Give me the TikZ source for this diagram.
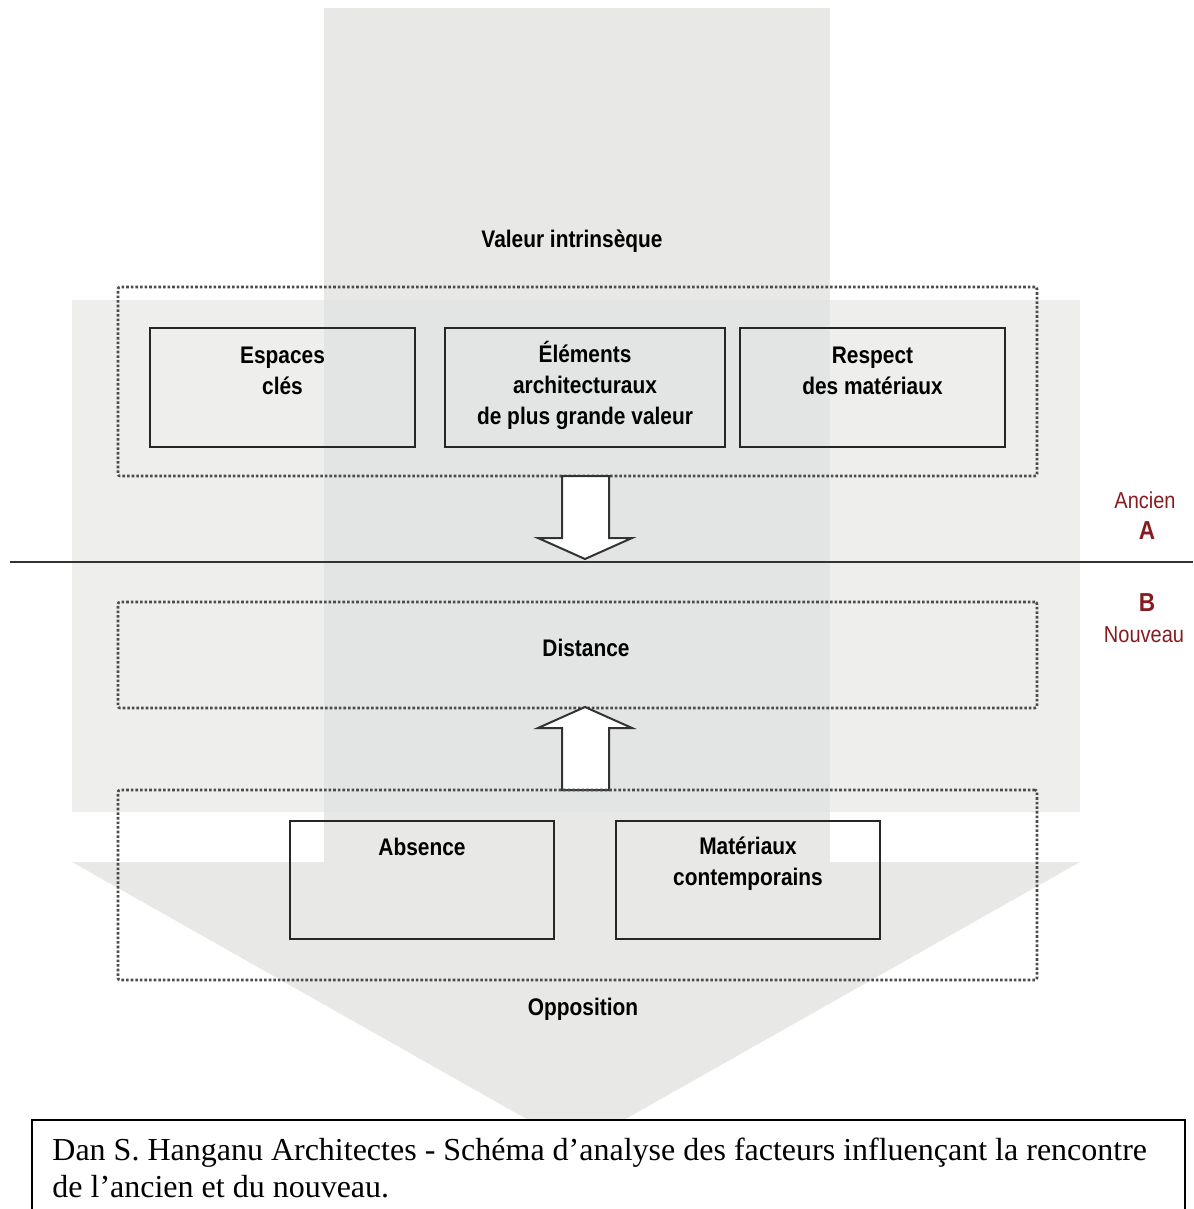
\documentclass[tikz,border=0pt]{standalone}
\usepackage{fontspec}
\setmainfont{Liberation Serif}
\newfontfamily\diafont[FakeStretch=0.87]{Liberation Sans}
\usetikzlibrary{positioning}

\definecolor{bandgray}{RGB}{232,232,230}
\definecolor{hbandgray}{RGB}{238,238,237}
\definecolor{overgray}{RGB}{227,229,229}
\definecolor{dotgray}{RGB}{75,75,75}
\definecolor{oldnew}{RGB}{135,28,32}

\tikzset{
  zone/.style={draw=dotgray, densely dotted, line width=1.3pt, rounded corners=1pt, inner sep=0pt},
  factor/.style={draw=black!85, line width=1pt, inner sep=0pt, minimum width=132.5pt, minimum height=59.5pt},
  ftext/.style={font=\diafont\bfseries\fontsize{12}{15.5}\selectfont, align=center, anchor=base, inner sep=0pt},
  sidetext/.style={font=\diafont\fontsize{11.5}{13}\selectfont, text=oldnew, inner sep=0pt},
  sideletter/.style={font=\diafont\bfseries\fontsize{13}{15}\selectfont, text=oldnew, inner sep=0pt},
  hollow/.style={draw=black!80, line width=1pt, fill=white, line join=miter}
}

\begin{document}
\begin{tikzpicture}[x=0.5pt, y=-0.5pt]
  \useasboundingbox (0,0) rectangle (1193,1209);

  % big grey arrow behind everything
  \fill [bandgray] (324,8) rectangle (830,862);
  \fill [hbandgray] (72,300) rectangle (1080,812);
  \fill [overgray] (324,300) rectangle (830,812);
  \fill [bandgray] (72,862) -- (1080,862) -- (576,1147) -- cycle;

  % old
  \node [ftext] (valeur) at (572,248) {Valeur intrinsèque};
  \node [zone, minimum width=459.5pt, minimum height=94.5pt] (oldzone) at (577.5,381.5) {};

  \node [factor] (espaces) at (282.5,387.5) {};
  \node [factor, minimum width=140pt] (elements) at (585,387.5) {};
  \node [factor] (respect) at (872.5,387.5) {};
  % base = last line
  \node [ftext] (espacestxt) at ([yshift=-33.5pt]espaces.north) {Espaces\\clés};
  \node [ftext] (elementstxt) at ([yshift=-48.5pt]elements.north) {Éléments\\architecturaux\\de plus grande valeur};
  \node [ftext] (respecttxt) at ([yshift=-33.5pt]respect.north) {Respect\\des matériaux};

  \draw [hollow] (562,476) -- (562,538) -- (538,538) -- (585,559) -- (632,538) -- (609,538) -- (609,476) -- cycle;

  % divider
  \coordinate (divl) at (10,562);
  \coordinate (divr) at (1193,562);
  \draw [line width=1pt, black!80] (divl) -- (divr);
  \node [sidetext] (ancien) at (1145,500) {Ancien};
  \node [sideletter] (lettera) at (1147,531) {A};
  \node [sideletter] (letterb) at (1147,603) {B};
  \node [sidetext] (nouveau) at (1144,635) {Nouveau};

  % new
  \node [zone, minimum width=459.5pt, minimum height=53pt] (distzone) at (577.5,655) {};
  \node [ftext] (distance) at (586,656) {Distance};

  \draw [hollow] (562,790) -- (562,728) -- (538,728) -- (585,707) -- (632,728) -- (609,728) -- (609,790) -- cycle;

  \node [zone, minimum width=459.5pt, minimum height=95pt] (oppzone) at (577.5,885) {};
  \node [factor, minimum width=132pt, minimum height=59pt] (absence) at (422,880) {};
  \node [factor, minimum width=132pt, minimum height=59pt] (materiaux) at (748,880) {};
  \node [ftext] (absencetxt) at ([yshift=-17.5pt]absence.north) {Absence};
  \node [ftext] (materiauxtxt) at ([yshift=-32.5pt]materiaux.north) {Matériaux\\contemporains};
  \node [ftext] (opposition) at (583,1015) {Opposition};

  % caption
  \draw [line width=1pt, fill=white] (32,1120) rectangle (1185,1240);
  \node [anchor=base west, align=left, inner sep=0pt, font=\fontsize{16}{18.5}\selectfont] (caption) at (52,1197)
    {Dan S. Hanganu Architectes - Schéma d’analyse des facteurs influençant la rencontre\\de l’ancien et du nouveau.};
\end{tikzpicture}
\end{document}
